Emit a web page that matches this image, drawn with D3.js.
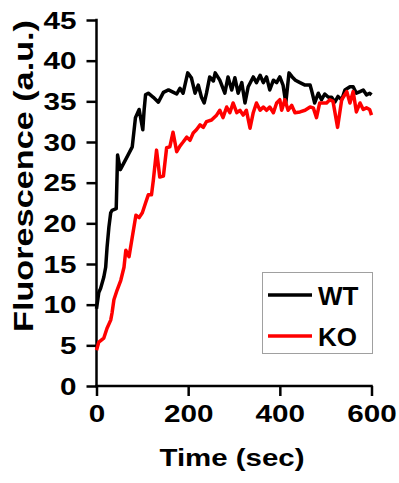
<!DOCTYPE html>
<html>
<head>
<meta charset="utf-8">
<script src="https://cdn.jsdelivr.net/npm/d3@7"></script>
<style>
body { margin: 0; background: #fff; }
text { font-family: "Liberation Sans", Arial, sans-serif; font-weight: bold; }
</style>
</head>
<body>
<div id="chart"></div>
<script>
// values
var wtTime = [0, 5, 9, 16, 20, 23, 27, 31, 34, 43, 46, 52, 67, 78, 85, 93, 101, 104, 107, 113, 124, 135, 146, 157, 168, 175, 182, 189, 199, 207, 215, 222, 229, 235, 240, 247, 255, 259, 269, 280, 287, 295, 302, 309, 317, 324, 331, 342, 349, 357, 364, 371, 378, 386, 393, 400, 407, 413, 420, 427, 434, 444, 455, 466, 469, 476, 484, 491, 498, 506, 513, 520, 527, 535, 542, 553, 560, 567, 575, 582, 589, 596, 600];
var wtValue = [9.5, 11.5, 12, 13.4, 14.6, 17, 19.5, 21.3, 21.6, 21.8, 28.4, 26.6, 28.2, 29.4, 33, 34, 31.5, 34, 35.8, 36, 35.5, 34.9, 36.1, 36.4, 36.1, 35.9, 36.6, 36, 38.5, 37.9, 36, 37, 35.5, 34.8, 36, 38, 37.5, 38.5, 37.6, 36, 38, 36.4, 37.9, 36, 37.3, 34.8, 36.8, 38, 37.3, 38.2, 37.3, 38, 36.4, 37.6, 37.3, 38, 37, 34.8, 38.5, 38, 37.6, 37.3, 37, 37, 36.4, 34.8, 36, 35.2, 35.9, 35.5, 35.5, 34.9, 35.6, 35.2, 36.4, 36.8, 36.8, 36, 36.2, 36.4, 35.8, 36, 35.8];

var koTime = [0, 5, 16, 23, 31, 34, 38, 45, 53, 60, 64, 71, 78, 86, 93, 100, 107, 113, 120, 124, 131, 138, 146, 153, 160, 167, 175, 182, 189, 197, 204, 211, 218, 226, 233, 240, 251, 262, 269, 276, 284, 291, 298, 306, 313, 320, 327, 335, 342, 349, 357, 364, 371, 378, 386, 393, 400, 404, 411, 418, 426, 433, 444, 455, 466, 473, 480, 487, 495, 502, 509, 516, 526, 535, 546, 553, 560, 567, 575, 582, 589, 596, 600];
var koValue = [4.4, 5.4, 5.9, 7.1, 8.1, 9, 10.6, 11.8, 13, 14.6, 16.7, 15.9, 18.3, 21, 20.7, 21.3, 22.5, 23.5, 23.5, 25.3, 29, 25.7, 25.8, 29.3, 29.4, 31.2, 28.8, 29.5, 30, 30.6, 30.2, 31.1, 31.5, 32.1, 31.8, 32.5, 32.7, 33.3, 33.9, 33, 34.3, 33.6, 34.8, 33.6, 33.9, 33.3, 33.9, 31.7, 33.6, 34.8, 33.9, 34.3, 33.9, 34.3, 33.6, 34.8, 35.2, 33.9, 35.2, 33.9, 34.5, 33.6, 33.7, 33.9, 34.3, 34.2, 33, 34.8, 34.8, 34.8, 35.2, 35, 31.8, 35.2, 36.2, 34.8, 36.2, 33.7, 34.8, 34, 34.2, 34, 33.3];

var seriesNames = ["WT", "KO"];
var seriesColors = ["#000000", "#ff0000"];
var xTicks = [0, 200, 400, 600];
var yTicks = [0, 5, 10, 15, 20, 25, 30, 35, 40, 45];

var width = 399, height = 483;
var svg = d3.select("#chart").append("svg")
    .attr("width", width)
    .attr("height", height);

var x = d3.scaleLinear().domain([0, 600]).range([96.5, 371.5]);
var y = d3.scaleLinear().domain([0, 45]).range([386, 20]);

// axes
var yAxis = svg.append("g")
    .attr("transform", "translate(" + x(0) + ",0)")
    .call(d3.axisLeft(y).tickValues(yTicks).tickSize(10).tickPadding(10));
var xAxis = svg.append("g")
    .attr("transform", "translate(0," + y(0) + ")")
    .call(d3.axisBottom(x).tickValues(xTicks).tickSize(10).tickPadding(10));

svg.selectAll(".domain, .tick line")
    .attr("stroke", "#000")
    .attr("stroke-width", 2.5);
svg.selectAll(".domain").attr("stroke-linecap", "square");

yAxis.selectAll(".domain").attr("d", "M0," + y(45) + "V" + y(0));
xAxis.selectAll(".domain").attr("d", "M" + x(0) + ",0H" + x(600));

svg.selectAll(".tick text")
    .attr("fill", "#000")
    .style("font-size", "23px")
    .attr("textLength", function (d) { return String(d).length * 16.5; })
    .attr("lengthAdjust", "spacingAndGlyphs");
yAxis.selectAll(".tick text").attr("dy", "0.36em");
xAxis.selectAll(".tick text").attr("dy", "0.71em");

// axis titles
svg.append("text")
    .attr("x", 232)
    .attr("y", 466)
    .attr("text-anchor", "middle")
    .style("font-size", "23px")
    .attr("textLength", 145)
    .attr("lengthAdjust", "spacingAndGlyphs")
    .text("Time (sec)");

svg.append("text")
    .attr("transform", "translate(33,176) rotate(-90)")
    .attr("text-anchor", "middle")
    .style("font-size", "28px")
    .attr("textLength", 312)
    .attr("lengthAdjust", "spacingAndGlyphs")
    .text("Fluorescence (a.u.)");

// lines
var line = d3.line()
    .x(function (d) { return x(d[0]); })
    .y(function (d) { return y(d[1]); });

var wtData = wtTime.map(function (t, i) { return [t, wtValue[i]]; });
var koData = koTime.map(function (t, i) { return [t, koValue[i]]; });

svg.append("path")
    .datum(wtData)
    .attr("d", line)
    .attr("fill", "none")
    .attr("stroke", seriesColors[0])
    .attr("stroke-width", 3.5)
    .attr("stroke-linejoin", "round");

svg.append("path")
    .datum(koData)
    .attr("d", line)
    .attr("fill", "none")
    .attr("stroke", seriesColors[1])
    .attr("stroke-width", 3.5)
    .attr("stroke-linejoin", "round");

// legend
var legend = svg.append("g").attr("transform", "translate(262,272)");
legend.append("rect")
    .attr("x", 0.5)
    .attr("y", 0.5)
    .attr("width", 110)
    .attr("height", 81)
    .attr("fill", "#fff")
    .attr("stroke", "#a0a0a0")
    .attr("stroke-width", 1);

seriesNames.forEach(function (name, i) {
    var row = legend.append("g").attr("transform", "translate(0," + (23 + i * 41) + ")");
    row.append("line")
        .attr("x1", 6)
        .attr("x2", 50)
        .attr("y1", 0)
        .attr("y2", 0)
        .attr("stroke", seriesColors[i])
        .attr("stroke-width", 3.5);
    row.append("text")
        .attr("x", 56)
        .attr("y", 10)
        .style("font-size", "26px")
        .text(name);
});
</script>
</body>
</html>
